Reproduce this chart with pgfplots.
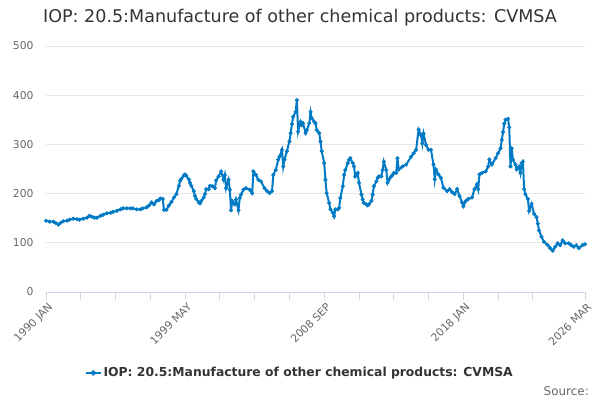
\documentclass[border=0pt]{standalone}
\usepackage{fontspec}
\setmainfont{DejaVu Sans}
\usepackage{pgfplots}
\pgfplotsset{compat=1.18}
\definecolor{ser}{RGB}{0,122,196}
\definecolor{gridc}{RGB}{230,230,230}
\definecolor{axc}{RGB}{204,214,235}
\definecolor{labc}{RGB}{102,102,102}
\definecolor{titc}{RGB}{51,51,51}
\begin{document}
\begin{tikzpicture}
\path[use as bounding box] (0,0) rectangle (600bp,400bp);
\begin{axis}[
  at={(46bp,108bp)}, anchor=south west,
  scale only axis, width=539bp, height=246bp,
  xmin=0, xmax=434, ymin=0, ymax=500,
  axis x line*=bottom, axis y line*=left,
  x axis line style={draw=axc, line width=0.8bp},
  y axis line style={draw=none},
  ytick={0,100,...,500},
  ymajorgrids, grid style={draw=gridc, line width=0.8bp},
  xtick={0,112,224,336,434},
  xticklabels={1990 JAN,1999 MAY,2008 SEP,2018 JAN,2026 MAR},
  minor xtick={28,56,84,140,168,196,252,280,308,364,392},
  tick align=outside,
  major tick length=8bp, minor tick length=8bp,
  xtick style={draw=axc, line width=0.8bp},
  minor x tick style={draw=axc, line width=0.8bp},
  ytick style={draw=none},
  tick label style={font=\fontsize{10.8}{12}\selectfont, color=labc},
  xticklabel style={rotate=45, anchor=north east, xshift=3bp, yshift=1bp},
  yticklabel style={anchor=east, xshift=-1bp},
  /pgf/number format/assume math mode=true,
  clip=false,
  legend style={at={(0.471,-0.329)}, anchor=center, draw=none, fill=none,
    font=\bfseries\fontsize{12.4}{14}\selectfont, text=titc},
  legend image code/.code={
    \draw[ser, line width=1.6bp] (0bp,0bp) -- (15bp,0bp);
    \fill[ser] (7.5bp,0bp) circle (1.6bp);
  },
]
\addplot[color=ser, line width=2bp, mark=*, mark size=1.8bp, mark options={fill=ser, draw=ser, line width=0.5bp}] coordinates {
(0,145)(3,143)(6,143)(8,140)(10,137)(12,141)(14,144)(17,145)(19,147)(22,149)
(25,148)(27,147)(30,149)(33,151)(35,155)(37,153)(39,151)(41,151)(44,155)(46,157)
(49,160)(52,161)(54,163)(57,165)(60,168)(62,170)(65,170)(68,170)(70,170)(73,168)
(76,168)(78,170)(81,172)(83,176)(85,182)(87,178)(89,185)(91,187)(92,190)(94,189)
(95,167)(97,167)(99,176)(101,183)(103,192)(105,199)(107,216)(108,226)(109,230)(111,237)
(112,239)(113,236)(115,229)(116,222)(117,216)(119,205)(120,195)(121,189)(123,182)(124,180)
(125,185)(127,192)(128,199)(129,209)(131,209)(132,216)(134,215)(136,211)(137,227)(139,235)
(141,245)(143,228)(144,238)(145,211)(147,228)(148,208)(149,166)(150,185)(152,178)(153,188)
(155,166)(156,191)(157,198)(159,208)(161,211)(164,208)(166,201)(167,245)(169,238)(171,228)
(173,225)(176,211)(178,205)(180,201)(182,205)(183,238)(185,248)(187,269)(188,275)(190,289)
(191,255)(192,269)(194,286)(196,306)(197,323)(198,341)(199,356)(201,366)(202,390)(203,326)
(205,346)(206,339)(207,343)(209,323)(210,329)(212,343)(213,366)(214,353)(216,346)(217,343)
(218,329)(220,323)(221,306)(222,286)(224,262)(225,228)(226,201)(228,181)(229,168)(231,161)
(232,154)(233,168)(235,168)(236,171)(237,191)(239,215)(240,238)(241,248)(243,262)(244,269)
(245,272)(247,262)(248,255)(249,235)(251,242)(252,222)(254,198)(255,188)(256,181)(258,178)
(259,176)(260,178)(262,185)(263,198)(264,215)(266,225)(267,232)(268,235)(270,235)(271,248)
(272,265)(274,248)(275,222)(276,228)(278,235)(279,238)(280,242)(282,242)(283,272)(284,249)
(287,255)(290,259)(294,275)(296,282)(298,289)(300,330)(302,319)(303,302)(304,322)(306,299)
(308,289)(310,289)(312,259)(313,229)(314,249)(316,239)(318,232)(320,212)(323,205)(325,209)
(327,203)(329,199)(331,209)(333,195)(335,182)(336,174)(338,185)(340,189)(343,192)(345,209)
(347,219)(348,209)(349,239)(351,242)(354,245)(356,255)(357,269)(359,259)(362,272)(364,282)
(366,292)(367,309)(368,325)(369,342)(370,350)(372,352)(373,335)(374,255)(375,292)(376,269)
(378,259)(379,249)(381,255)(382,242)(383,262)(384,265)(385,209)(386,199)(388,189)(389,165)
(391,179)(393,159)(395,152)(396,139)(397,125)(399,112)(401,102)(404,95)(406,89)(408,84)
(410,92)(412,99)(414,95)(416,105)(418,99)(421,99)(423,95)(425,92)(427,95)(429,89)
(432,95)(434,97)
};
\addlegendentry{IOP: 20.5:Manufacture of other chemical products: CVMSA}
\end{axis}
\node[anchor=center, text=titc, font=\fontsize{17.6}{20}\selectfont] at (300bp,382bp) {IOP: 20.5:Manufacture of other chemical products: CVMSA};
\node[anchor=south east, text=labc, font=\fontsize{12}{14}\selectfont, inner sep=0pt] at (589bp,4bp) {Source:};
\end{tikzpicture}
\end{document}
